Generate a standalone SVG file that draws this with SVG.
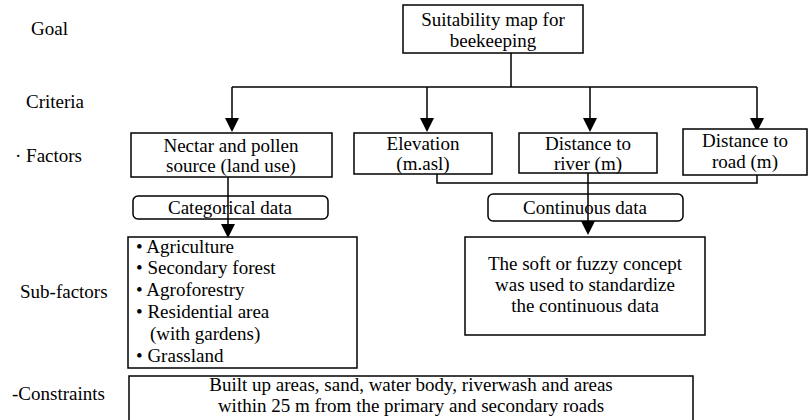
<svg xmlns="http://www.w3.org/2000/svg" width="809" height="420" viewBox="0 0 809 420">
<defs>
<style>
text{font-family:'Liberation Serif','Tinos','Times New Roman','DejaVu Serif',serif;font-size:19px;fill:#000}
.c{text-anchor:middle}
.b{fill:#fff;stroke:#000;stroke-width:1.5}
.r{fill:none;stroke:#000;stroke-width:1.5}
.ln{fill:none;stroke:#000;stroke-width:1.5}
.ar{fill:#000}
</style>
</defs>
<rect width="809" height="420" fill="#fff"/>
<g id="labels">
<text x="31" y="35">Goal</text>
<text x="26" y="108">Criteria</text>
<text x="15" y="162">· Factors</text>
<text x="20" y="298">Sub-factors</text>
<text x="12" y="400">-Constraints</text>
</g>
<g id="connectors">
<path class="ln" d="M511,53 V87 M232,87 H757 M232,87 V120 M427,87 V120 M590,87 V120 M757,87 V120"/>
<path class="ar" d="M225,118 H239 L232,132 Z M420,118 H434 L427,132 Z M583,118 H597 L590,132 Z M750,118 H764 L757,132 Z"/>
<path class="ln" d="M437,174 V183 H757 V175"/>
<path class="ln" d="M228,177 V226"/>
<path class="ar" d="M221,224 H235 L228,238 Z"/>
<path class="ln" d="M588,173 V223"/>
<path class="ar" d="M581,221 H595 L588,235 Z"/>
</g>
<g id="goal">
<rect class="b" x="403" y="5" width="180" height="48"/>
<text class="c" x="493" y="26">Suitability map for</text>
<text class="c" x="493" y="47">beekeeping</text>
</g>
<g id="nectar">
<rect class="b" x="131" y="133" width="201" height="44"/>
<text class="c" x="231" y="152">Nectar and pollen</text>
<text class="c" x="231" y="172">source (land use)</text>
</g>
<g id="elevation">
<rect class="b" x="354" y="133" width="138" height="41"/>
<text class="c" x="423" y="150">Elevation</text>
<text class="c" x="423" y="170">(m.asl)</text>
</g>
<g id="river">
<rect class="b" x="519" y="133" width="138" height="40"/>
<text class="c" x="588" y="150">Distance to</text>
<text class="c" x="588" y="170">river (m)</text>
</g>
<g id="road">
<rect class="b" x="683" y="129" width="124" height="46"/>
<text class="c" x="745" y="147">Distance to</text>
<text class="c" x="745" y="168">road (m)</text>
</g>
<g id="categorical">
<rect class="r" x="133" y="196" width="195" height="23" rx="5"/>
<text class="c" x="230" y="214">Categorical data</text>
</g>
<g id="continuous">
<rect class="r" x="488" y="194" width="195" height="27" rx="5"/>
<text class="c" x="585" y="214">Continuous data</text>
</g>
<g id="subfactors">
<rect class="b" x="128" y="237" width="229" height="131"/>
<text x="136" y="253">• Agriculture</text>
<text x="136" y="274">• Secondary forest</text>
<text x="136" y="296">• Agroforestry</text>
<text x="136" y="318">• Residential area</text>
<text x="150" y="340">(with gardens)</text>
<text x="136" y="362">• Grassland</text>
</g>
<g id="fuzzy">
<rect class="b" x="465" y="237" width="240" height="98"/>
<text class="c" x="585" y="270">The soft or fuzzy concept</text>
<text class="c" x="585" y="291">was used to standardize</text>
<text class="c" x="585" y="312">the continuous data</text>
</g>
<g id="constraints">
<rect class="b" x="129" y="376" width="564" height="60"/>
<text class="c" x="411" y="391">Built up areas, sand, water body, riverwash and areas</text>
<text class="c" x="411" y="412">within 25 m from the primary and secondary roads</text>
</g>
</svg>
